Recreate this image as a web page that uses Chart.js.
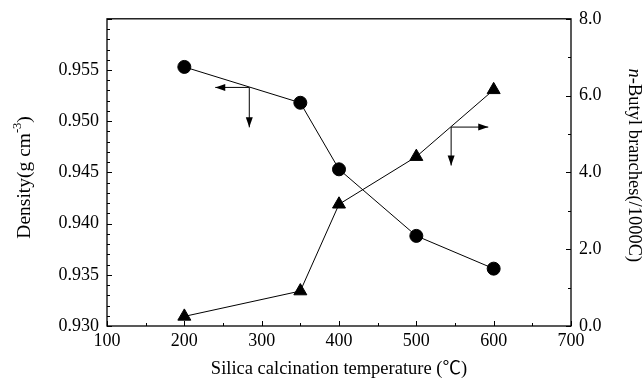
<!DOCTYPE html>
<html>
<head>
<meta charset="utf-8">
<script src="https://cdn.jsdelivr.net/npm/chart.js@4/dist/chart.umd.min.js"></script>
<style>
    html, body { margin: 0; padding: 0; background: #fff; }
    #wrap { width: 642px; height: 380px; }
</style>
</head>
<body>
<div id="wrap"><canvas id="chart"></canvas></div>
<script>
const temps = [200, 350, 400, 500, 600];
const density = [0.9553, 0.9518, 0.9453, 0.9388, 0.9356];
const butyl = [0.25, 0.91, 3.17, 4.41, 6.15];

const xTitle = "Silica calcination temperature (\u2103)";
const leftTitle = ["Density(g cm", "-3", ")"];
const rightTitle = ["n", "-Butyl branches(/1000C)"];

// arrow annotations: [corner x, corner y, tip x, tip y of down arrow]
const leftArrow = [284, 0.9533, 240, 0.9494];
const rightArrow = [545, 5.18, 593, 4.18];

const font = "'Liberation Serif', 'Noto Sans CJK JP'";

function drawHead(ctx, x, y, dir) {
    const len = 10, half = 3.5;
    ctx.beginPath();
    if (dir === "left") {
        ctx.moveTo(x, y); ctx.lineTo(x + len, y - half); ctx.lineTo(x + len, y + half);
    } else if (dir === "right") {
        ctx.moveTo(x, y); ctx.lineTo(x - len, y - half); ctx.lineTo(x - len, y + half);
    } else {
        ctx.moveTo(x, y); ctx.lineTo(x - half, y - len); ctx.lineTo(x + half, y - len);
    }
    ctx.closePath();
    ctx.fill();
}

function drawArrows(ctx, xs, ys, arr, horizDir) {
    const cx = xs.getPixelForValue(arr[0]);
    const cy = ys.getPixelForValue(arr[1]);
    const hx = xs.getPixelForValue(arr[2]);
    const vy = ys.getPixelForValue(arr[3]);
    ctx.beginPath();
    ctx.moveTo(hx, cy); ctx.lineTo(cx, cy);
    ctx.moveTo(cx, cy); ctx.lineTo(cx, vy);
    ctx.stroke();
    drawHead(ctx, hx, cy, horizDir);
    drawHead(ctx, cx, vy, "down");
}

const framePlugin = {
    id: "frame",
    afterDatasetsDraw(chart) {
        const ctx = chart.ctx;
        const a = chart.chartArea;
        const xs = chart.scales.x, yl = chart.scales.yL, yr = chart.scales.yR;
        ctx.save();
        ctx.strokeStyle = "#000";
        ctx.fillStyle = "#000";
        ctx.lineWidth = 1.3;
        ctx.strokeRect(a.left, a.top, a.right - a.left, a.bottom - a.top);

        ctx.lineWidth = 1;
        ctx.beginPath();
        for (let v = 100; v <= 700; v += 50) {
            const px = Math.round(xs.getPixelForValue(v)) + 0.5;
            const len = v % 100 === 0 ? 5 : 3;
            ctx.moveTo(px, a.bottom); ctx.lineTo(px, a.bottom - len);
        }
        for (let i = 0; i <= 30; i++) {
            const v = 0.930 + i * 0.001;
            const py = Math.round(yl.getPixelForValue(v)) + 0.5;
            const len = i % 5 === 0 ? 5 : 3;
            ctx.moveTo(a.left, py); ctx.lineTo(a.left + len, py);
        }
        for (let v = 0; v <= 8; v += 1) {
            const py = Math.round(yr.getPixelForValue(v)) + 0.5;
            const len = v % 2 === 0 ? 5 : 3;
            ctx.moveTo(a.right, py); ctx.lineTo(a.right - len, py);
        }
        ctx.stroke();

        drawArrows(ctx, xs, yl, leftArrow, "left");
        drawArrows(ctx, xs, yr, rightArrow, "right");

        // axis titles
        ctx.textBaseline = "middle";
        ctx.font = "18.5px " + font;
        ctx.textAlign = "center";
        ctx.fillText(xTitle, (a.left + a.right) / 2, 369);

        const midY = (a.top + a.bottom) / 2;
        ctx.save();
        ctx.translate(25, midY + 5);
        ctx.rotate(-Math.PI / 2);
        const f = "19.5px " + font, fs = "12.5px " + font;
        ctx.font = f; const w1 = ctx.measureText(leftTitle[0]).width;
        const w3 = ctx.measureText(leftTitle[2]).width;
        ctx.font = fs; const w2 = ctx.measureText(leftTitle[1]).width;
        let x0 = -(w1 + w2 + w3) / 2;
        ctx.textAlign = "left";
        ctx.font = f; ctx.fillText(leftTitle[0], x0, 0);
        ctx.font = fs; ctx.fillText(leftTitle[1], x0 + w1, -7);
        ctx.font = f; ctx.fillText(leftTitle[2], x0 + w1 + w2, 0);
        ctx.restore();

        ctx.save();
        ctx.translate(634, midY - 7);
        ctx.rotate(Math.PI / 2);
        const rf = "18.5px " + font, fi = "italic 18.5px " + font;
        ctx.font = fi; const r1 = ctx.measureText(rightTitle[0]).width;
        ctx.font = rf; const r2 = ctx.measureText(rightTitle[1]).width;
        x0 = -(r1 + r2) / 2;
        ctx.textAlign = "left";
        ctx.font = fi; ctx.fillText(rightTitle[0], x0, 0);
        ctx.font = rf; ctx.fillText(rightTitle[1], x0 + r1, 0);
        ctx.restore();

        ctx.restore();
    }
};

const tickFont = { family: "Liberation Serif", size: 18 };

new Chart(document.getElementById("chart"), {
    type: "line",
    data: {
        datasets: [{
            label: "Density",
            data: temps.map((t, i) => ({ x: t, y: density[i] })),
            yAxisID: "yL",
            borderColor: "#000",
            backgroundColor: "#000",
            borderWidth: 1,
            pointStyle: "circle",
            pointRadius: 6.5,
            tension: 0
        }, {
            label: "n-Butyl branches",
            data: temps.map((t, i) => ({ x: t, y: butyl[i] })),
            yAxisID: "yR",
            borderColor: "#000",
            backgroundColor: "#000",
            borderWidth: 1,
            pointStyle: "triangle",
            pointRadius: 7.5,
            tension: 0
        }]
    },
    options: {
        responsive: true,
        maintainAspectRatio: false,
        animation: false,
        layout: { padding: { top: 18, left: 0, right: 0, bottom: 0 } },
        plugins: { legend: { display: false }, tooltip: { enabled: false } },
        scales: {
            x: {
                type: "linear",
                min: 100, max: 700,
                grid: { display: false, drawTicks: false },
                border: { display: false },
                ticks: { stepSize: 100, color: "#000", font: tickFont, padding: 4 },
                afterFit: s => { s.height = 54; }
            },
            yL: {
                type: "linear",
                position: "left",
                min: 0.930, max: 0.960,
                grid: { display: false, drawTicks: false },
                border: { display: false },
                ticks: {
                    stepSize: 0.005, color: "#000", font: tickFont, padding: 8,
                    callback: v => v > 0.9575 ? "" : v.toFixed(3)
                },
                afterFit: s => { s.width = 107; }
            },
            yR: {
                type: "linear",
                position: "right",
                min: 0, max: 8,
                grid: { display: false, drawTicks: false },
                border: { display: false },
                ticks: {
                    stepSize: 2, color: "#000", font: tickFont, padding: 8,
                    callback: v => v.toFixed(1)
                },
                afterFit: s => { s.width = 71; }
            }
        }
    },
    plugins: [framePlugin]
});
</script>
</body>
</html>
